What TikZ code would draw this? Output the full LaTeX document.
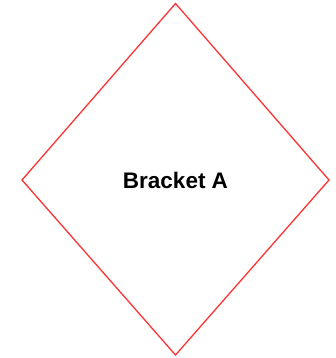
\documentclass[tikz,border=0pt]{standalone}
\usepackage{fontspec}
\setmainfont{Liberation Sans}
\definecolor{dred}{HTML}{FF3333}
\begin{document}
\begin{tikzpicture}[x=1pt,y=-1pt,
  dia/.style={draw=dred,line width=1.3pt}]
\useasboundingbox (0,0) rectangle (335,358);
\coordinate (t) at (175.5,3.5);
\coordinate (l) at (22,180);
\coordinate (b) at (175.5,355);
\coordinate (r) at (329,180);
\draw[dia,line join=miter] (t) -- (r) -- (b) -- (l) -- cycle;
\node[font=\bfseries\fontsize{22.5}{26}\selectfont,inner sep=0] (lab) at (175.5,180) {Bracket A};
\end{tikzpicture}
\end{document}
